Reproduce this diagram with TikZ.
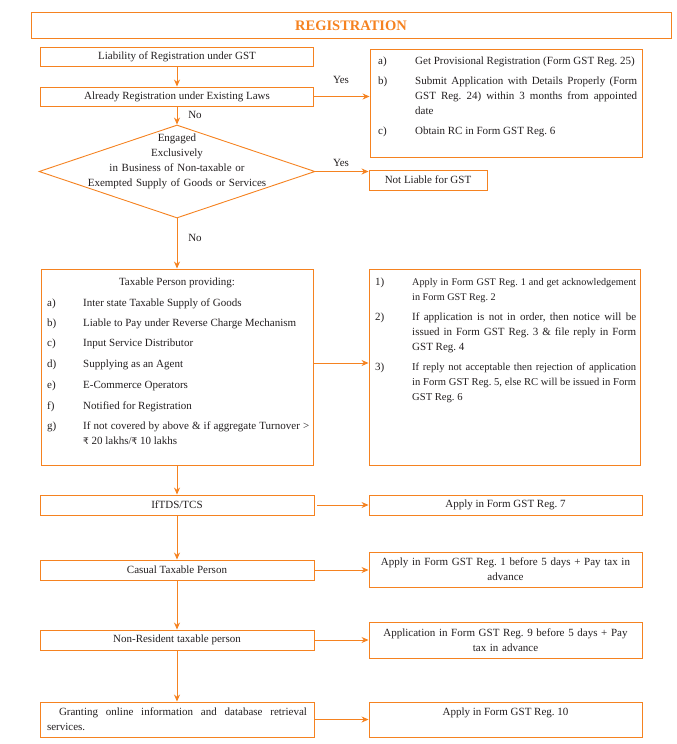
\documentclass[tikz,border=0pt]{standalone}
\usepackage{fontspec}
\setmainfont{Liberation Serif}
\newfontfamily\rupeefont{DejaVu Sans}
\usetikzlibrary{arrows.meta,shapes.geometric}
\definecolor{gstorange}{HTML}{F58220}
\definecolor{gstink}{HTML}{231F20}
\newcommand{\rsym}{{\rupeefont\fontsize{9}{10}\selectfont ₹}}
\hyphenpenalty=10000
\exhyphenpenalty=10000
\frenchspacing
\tikzset{
	box/.style={draw=gstorange,line width=.9pt,inner sep=2pt,align=center,text=gstink},
	flow/.style={draw=gstorange,line width=.9pt,-{Stealth[length=7pt,width=6pt]}},
	item/.style={anchor=base west,inner sep=0pt,text=gstink},
	para/.style={item,text width=#1,align=justify},
	tag/.style={inner sep=0pt,text=gstink},
}
\begin{document}
\begin{tikzpicture}[x=1pt,y=-1pt,font=\fontsize{11}{15}\selectfont]
\useasboundingbox (0,0) rectangle (677,744);
\node (title) at (351,25.5) [box,minimum width=640pt,minimum height=26pt,text=gstorange,font=\bfseries\fontsize{14.5}{16}\selectfont] {REGISTRATION};

\node (lia) at (177,56.5) [box,minimum width=273pt,minimum height=19pt] {Liability of Registration under GST};
\node (alr) at (177,96.5) [box,minimum width=273pt,minimum height=19pt] {Already Registration under Existing Laws};
\node (eng) at (177,171.5) [diamond,draw=gstorange,line width=.9pt,minimum width=276pt,minimum height=93pt,inner sep=0pt] {};
\node (engtxt) at (177,141) [tag,anchor=base,text width=220pt,align=center] {Engaged\\Exclusively\\in Business of Non-taxable or\\Exempted Supply of Goods or Services};

\node (abc) at (506,103) [box,minimum width=272pt,minimum height=108pt] {};
\foreach \y/\l/\t [count=\i] in {64/a)/{Get Provisional Registration (Form GST Reg. 25)},84/b)/{Submit Application with Details Properly (Form GST Reg. 24) within 3 months from appointed\linebreak date},134/c)/{Obtain RC in Form GST Reg. 6}} {
	\node (abclbl\i) at (378,\y) [item] {\l};
	\node (abctxt\i) at (415,\y) [para=222pt] {\t};
	}
\node (nl) at (428,180) [box,minimum width=118pt,minimum height=20pt] {Not Liable for GST};

\node (tax) at (177,367) [box,minimum width=272pt,minimum height=196pt] {};
\node (taxhead) at (177,285) [tag,anchor=base] {Taxable Person providing:};
\foreach \y/\l/\t [count=\i] in {306/a)/Inter state Taxable Supply of Goods,326/b)/Liable to Pay under Reverse Charge Mechanism,346/c)/Input Service Distributor,367/d)/Supplying as an Agent,388/e)/E-Commerce Operators,409/f)/Notified for Registration,429/g)/{If not covered by above \& if aggregate Turnover~> \rsym\ 20 lakhs/\rsym\ 10 lakhs}} {
	\node (taxlbl\i) at (47,\y) [item] {\l};
	\node (taxtxt\i) at (83,\y) [para=226pt] {\t};
	}

\node (rule) at (504.5,367) [box,minimum width=271pt,minimum height=196pt] {};
\foreach \y/\l/\t [count=\i] in {285/1)/{{\fontsize{10.2}{15}\selectfont Apply in Form GST Reg. 1 and get acknowledgement in Form GST Reg. 2}},320/2)/{If application is not in order, then notice will be issued in Form GST Reg. 3 \& file reply in Form GST Reg. 4},370/3)/{{\fontsize{10.6}{15}\selectfont If reply not acceptable then rejection of application in Form GST Reg. 5, else RC will be issued in Form GST Reg. 6}}} {
	\node (rulelbl\i) at (375,\y) [item] {\l};
	\node (ruletxt\i) at (412,\y) [para=224pt] {\t};
	}

\node (tds) at (177,505) [box,minimum width=274pt,minimum height=20pt] {IfTDS/TCS};
\node (cas) at (177,570) [box,minimum width=274pt,minimum height=20pt] {Casual Taxable Person};
\node (nrp) at (177,640) [box,minimum width=274pt,minimum height=20pt] {Non-Resident taxable person};
\node (onl) at (177,719.5) [box,minimum width=274pt,minimum height=35pt,text width=260pt,align=justify] {\hspace*{12pt}Granting online information and database retrieval services.};

\node (reg7) at (505.5,505) [box,minimum width=273pt,minimum height=20pt] {Apply in Form GST Reg. 7};
\node (reg1) at (505.5,569.5) [box,minimum width=273pt,minimum height=35pt,text width=262pt] {Apply in Form GST Reg. 1 before 5 days + Pay tax in\\advance};
\node (reg9) at (505.5,640) [box,minimum width=273pt,minimum height=36pt,text width=262pt] {Application in Form GST Reg. 9 before 5 days + Pay\\tax in advance};
\node (reg10) at (505.5,719.5) [box,minimum width=273pt,minimum height=35pt] {Apply in Form GST Reg. 10\\\phantom{x}};

\node (yes1) at (341,80) [tag] {Yes};
\node (no1) at (195,115) [tag] {No};
\node (yes2) at (341,163) [tag] {Yes};
\node (no2) at (195,238) [tag] {No};

\draw[flow] (lia) -- (alr);
\draw[flow] (alr) -- (eng);
\draw[flow] (eng) -- (tax);
\draw[flow] (tax) -- (tds);
\draw[flow] (tds) -- (cas);
\draw[flow] (cas) -- (nrp);
\draw[flow] (nrp) -- (onl);
\draw[flow] (alr.east) -- (alr.east -| abc.west);
\draw[flow] (eng.east) -- (eng.east -| nl.west);
\draw[flow] ([yshift=4pt]tax.east) -- ([yshift=4pt]tax.east -| rule.west);
\draw[flow] ([xshift=3pt]tds.east) -- (tds.east -| reg7.west);
\draw[flow] (cas.east) -- (cas.east -| reg1.west);
\draw[flow] (nrp.east) -- (nrp.east -| reg9.west);
\draw[flow] (onl.east) -- (onl.east -| reg10.west);
\end{tikzpicture}
\end{document}
